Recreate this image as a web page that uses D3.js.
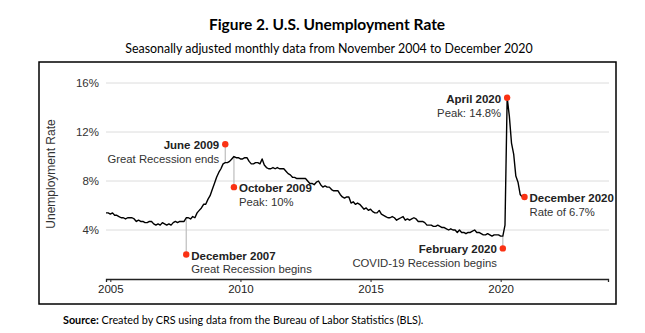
<!DOCTYPE html>
<html>
<head>
<meta charset="utf-8">
<script src="https://cdn.jsdelivr.net/npm/d3@7"></script>
<style>
  body { margin: 0; background: #fff; }
  svg { display: block; }
</style>
</head>
<body>
<div id="content"></div>
<script>
// monthly unemployment rate (%), Nov 2004 .. Dec 2020
let startYear = 2004, startMonth = 11;
let rates = [
    5.4, 5.4,                                                   // 2004 (Nov-Dec)
    5.3, 5.4, 5.2, 5.2, 5.1, 5.0, 5.0, 4.9, 5.0, 5.0, 5.0, 4.9, // 2005
    4.7, 4.8, 4.7, 4.7, 4.6, 4.6, 4.7, 4.7, 4.5, 4.4, 4.5, 4.4, // 2006
    4.6, 4.5, 4.4, 4.5, 4.4, 4.6, 4.7, 4.6, 4.7, 4.7, 4.7, 5.0, // 2007
    5.0, 4.9, 5.1, 5.0, 5.4, 5.6, 5.8, 6.1, 6.1, 6.5, 6.8, 7.3, // 2008
    7.8, 8.3, 8.7, 9.0, 9.4, 9.5, 9.5, 9.6, 9.8, 10.0, 9.9, 9.9, // 2009
    9.8, 9.8, 9.9, 9.9, 9.6, 9.4, 9.4, 9.5, 9.5, 9.4, 9.8, 9.3, // 2010
    9.1, 9.0, 9.0, 9.1, 9.0, 9.1, 9.0, 9.0, 9.0, 8.8, 8.6, 8.5, // 2011
    8.3, 8.3, 8.2, 8.2, 8.2, 8.2, 8.2, 8.0, 7.8, 7.8, 7.7, 7.9, // 2012
    8.0, 7.7, 7.5, 7.6, 7.5, 7.5, 7.3, 7.2, 7.2, 7.2, 6.9, 6.7, // 2013
    6.6, 6.7, 6.7, 6.2, 6.3, 6.1, 6.2, 6.1, 5.9, 5.7, 5.8, 5.6, // 2014
    5.7, 5.5, 5.4, 5.4, 5.6, 5.3, 5.2, 5.1, 5.0, 5.0, 5.1, 5.0, // 2015
    4.8, 4.9, 5.0, 5.1, 4.8, 4.9, 4.8, 4.9, 5.0, 4.9, 4.7, 4.7, // 2016
    4.7, 4.6, 4.4, 4.4, 4.4, 4.3, 4.3, 4.4, 4.3, 4.2, 4.2, 4.1, // 2017
    4.0, 4.1, 4.0, 4.0, 3.8, 4.0, 3.8, 3.8, 3.7, 3.8, 3.8, 3.9, // 2018
    4.0, 3.8, 3.8, 3.7, 3.6, 3.6, 3.7, 3.6, 3.5, 3.6, 3.6, 3.6, // 2019
    3.5, 3.5, 4.4, 14.8, 13.3, 11.1, 10.2, 8.4, 7.9, 6.9, 6.7, 6.7 // 2020
];

let yearTicks = [2005, 2010, 2015, 2020];
let rateTicks = [4, 8, 12, 16];

// annotations: date, where the red dot sits (%), side of the text, two text lines
let noteYear = [2007, 2009, 2009, 2020, 2020, 2020];
let noteMonth = [12, 6, 10, 2, 4, 12];
let noteDot = [2.0, 11.0, 7.5, 2.5, 14.8, 6.7];
let noteSide = ["right", "left", "right", "left", "left", "right"];
let noteBold = ["December 2007", "June 2009", "October 2009", "February 2020", "April 2020", "December 2020"];
let noteText = ["Great Recession begins", "Great Recession ends", "Peak: 10%", "COVID-19 Recession begins", "Peak: 14.8%", "Rate of 6.7%"];

let width = 645, height = 333;
let svg = d3.select("#content").append("svg")
    .attr("width", width)
    .attr("height", height);

let decYear = (y, m) => y + (m - 1) / 12;
let data = rates.map((r, i) => {
    let m = startMonth - 1 + i;
    return { t: startYear + m / 12, v: r };
});
let rateAt = (y, m) => {
    let t = decYear(y, m);
    return data.find(d => Math.abs(d.t - t) < 0.01).v;
};

let x = d3.scaleLinear().domain([decYear(2004, 11), 2024.125]).range([106, 608]);
let y = d3.scaleLinear().domain([0, 16]).range([279, 83]);

let titleFont = "Lato, 'Open Sans', sans-serif";
let chartFont = "'Liberation Sans', Arial, sans-serif";

// title + subtitle
svg.append("text")
    .attr("x", 327).attr("y", 30)
    .attr("text-anchor", "middle")
    .style("font", "bold 15.5px " + titleFont)
    .style("fill", "#000")
    .text("Figure 2. U.S. Unemployment Rate");
svg.append("text")
    .attr("x", 329).attr("y", 53)
    .attr("text-anchor", "middle")
    .style("font", "12.4px " + titleFont)
    .style("fill", "#000")
    .text("Seasonally adjusted monthly data from November 2004 to December 2020");

// frame
svg.append("rect")
    .attr("x", 39).attr("y", 62)
    .attr("width", 577).attr("height", 242)
    .attr("fill", "none")
    .attr("stroke", "#000")
    .attr("stroke-width", 1.5);

// gridlines + y labels
svg.append("g")
    .selectAll("line")
    .data(rateTicks)
    .enter()
    .append("line")
    .attr("x1", 106).attr("x2", 609)
    .attr("y1", d => y(d)).attr("y2", d => y(d))
    .attr("stroke", "#dcdcdc")
    .attr("stroke-width", 1);

svg.append("g")
    .selectAll("text")
    .data(rateTicks)
    .enter()
    .append("text")
    .attr("x", 99)
    .attr("y", d => y(d))
    .attr("dy", "0.35em")
    .attr("text-anchor", "end")
    .style("font", "11.5px " + chartFont)
    .style("fill", "#333")
    .text(d => d + "%");

svg.append("text")
    .attr("transform", "translate(55,174) rotate(-90)")
    .attr("text-anchor", "middle")
    .style("font", "12px " + chartFont)
    .style("fill", "#333")
    .text("Unemployment Rate");

// x axis
let xAxis = svg.append("g")
    .attr("transform", "translate(0," + y(0) + ")")
    .call(d3.axisBottom(x).tickValues(yearTicks).tickFormat(d3.format("d")).tickSize(3).tickPadding(3));
xAxis.select(".domain").attr("stroke", "#222").attr("stroke-width", 1.3);
xAxis.selectAll(".tick line").attr("stroke", "#222");
xAxis.selectAll(".tick text")
    .style("font", "11.5px " + chartFont)
    .style("fill", "#222");

// connector lines
let notes = noteBold.map((b, i) => {
    let y0 = rateAt(noteYear[i], noteMonth[i]);
    return {
        t: decYear(noteYear[i], noteMonth[i]),
        dot: noteDot[i], curve: y0,
        side: noteSide[i], bold: b, text: noteText[i]
    };
});

svg.append("g")
    .selectAll("line")
    .data(notes.filter(d => Math.abs(d.dot - d.curve) > 0.05))
    .enter()
    .append("line")
    .attr("x1", d => x(d.t)).attr("x2", d => x(d.t))
    .attr("y1", d => y(d.curve)).attr("y2", d => y(d.dot))
    .attr("stroke", "#bdbdbd")
    .attr("stroke-width", 1.2);

// the series
let line = d3.line().x(d => x(d.t)).y(d => y(d.v));
svg.append("path")
    .datum(data)
    .attr("d", line)
    .attr("fill", "none")
    .attr("stroke", "#000")
    .attr("stroke-width", 1.4)
    .attr("stroke-linejoin", "round");

// dots + labels
let g = svg.append("g")
    .selectAll("g")
    .data(notes)
    .enter()
    .append("g")
    .attr("transform", d => "translate(" + x(d.t) + "," + y(d.dot) + ")");

g.append("circle")
    .attr("r", 3.2)
    .attr("fill", "#fa3214");

g.append("text")
    .attr("x", d => d.side == "right" ? 5 : -6)
    .attr("y", 1)
    .attr("dy", "0.35em")
    .attr("text-anchor", d => d.side == "right" ? "start" : "end")
    .style("font", "bold 11.5px " + chartFont)
    .style("fill", "#222")
    .text(d => d.bold);

g.append("text")
    .attr("x", d => d.side == "right" ? 5 : -6)
    .attr("y", 15)
    .attr("dy", "0.35em")
    .attr("text-anchor", d => d.side == "right" ? "start" : "end")
    .style("font", "11.3px " + chartFont)
    .style("fill", "#333")
    .text(d => d.text);

// source
let src = svg.append("text")
    .attr("x", 63).attr("y", 324)
    .style("font", "10.8px " + titleFont)
    .style("fill", "#000");
src.append("tspan").style("font-weight", "bold").text("Source:");
src.append("tspan").text(" Created by CRS using data from the Bureau of Labor Statistics (BLS).");
</script>
</body>
</html>
